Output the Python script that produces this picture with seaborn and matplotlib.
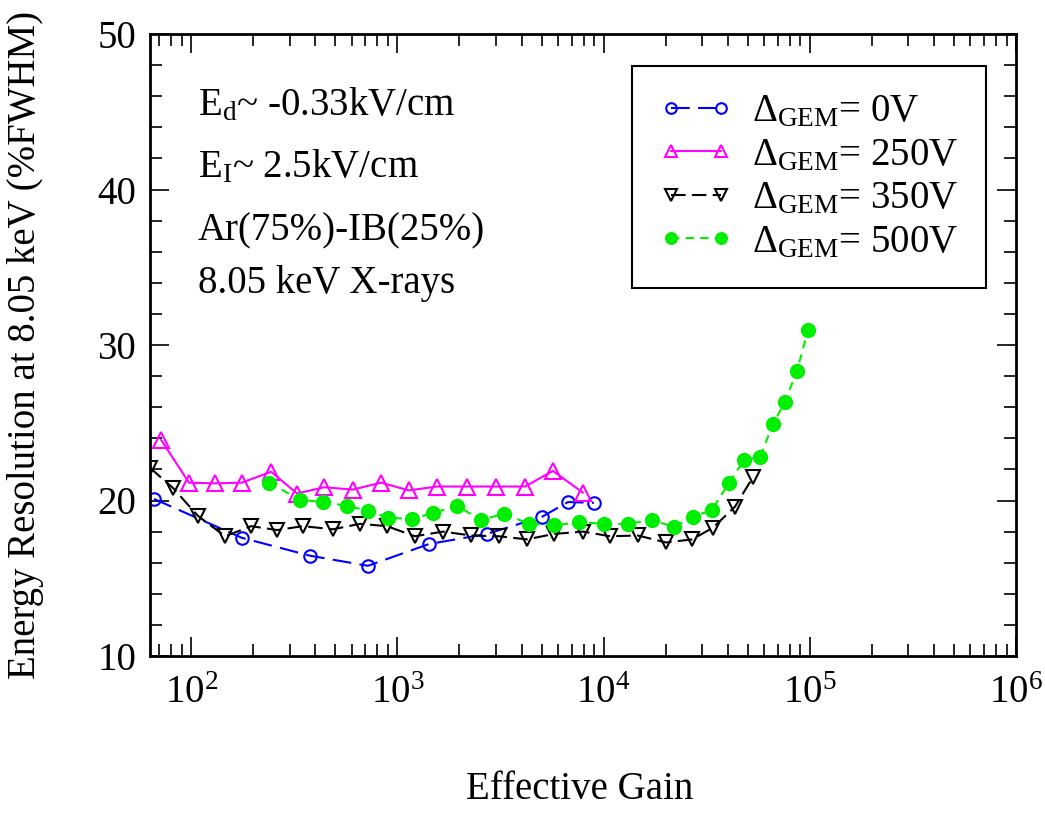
import numpy as np
import pandas as pd
import matplotlib
matplotlib.use("Agg")
import matplotlib.pyplot as plt
import seaborn as sns
from matplotlib.ticker import MultipleLocator, LogLocator, NullFormatter

# ---------------- data ----------------
gain_0v = [66.0, 176, 377, 719, 1422, 2716, 5020, 6715, 8980]
res_0v = [20.1, 17.6, 16.45, 15.8, 17.2, 17.85, 18.95, 19.9, 19.85]

gain_250v = [71.4, 97.5, 130, 176, 244, 326, 441, 609, 832, 1137, 1555, 2175,
             3008, 4156, 5681, 7943]
res_250v = [23.9, 21.15, 21.1, 21.15, 21.85, 20.45, 20.85, 20.7, 21.15, 20.65,
            20.9, 20.9, 20.9, 20.9, 21.9, 20.5]

gain_350v = [63.1, 81.6, 108, 146, 195, 261, 348, 487, 658, 889, 1216, 1663,
             2274, 3110, 4250, 5745, 7943, 10740, 14680, 20060, 26900, 33900,
             43350, 52970]
res_350v = [22.1, 20.8, 19.0, 17.7, 18.35, 18.1, 18.35, 18.15, 18.5, 18.35,
            17.7, 18.0, 17.75, 17.7, 17.5, 17.85, 18.0, 17.7, 17.75, 17.3,
            17.5, 18.25, 19.6, 21.5]

gain_500v = [238, 337, 435, 570, 719, 900, 1177, 1487, 1945, 2543, 3288, 4345,
             5745, 7598, 10060, 13150, 17180, 21980, 27160, 33580, 40570,
             47970, 57320, 66240, 75790, 86700, 97960]
res_500v = [21.15, 20.05, 19.9, 19.65, 19.35, 18.9, 18.8, 19.2, 19.65, 18.75,
            19.15, 18.5, 18.4, 18.6, 18.5, 18.5, 18.75, 18.3, 18.95, 19.4,
            21.15, 22.6, 22.8, 24.9, 26.35, 28.35, 30.95]

labels = [r"$\Delta_{\mathrm{GEM}}$= 0V", r"$\Delta_{\mathrm{GEM}}$= 250V",
          r"$\Delta_{\mathrm{GEM}}$= 350V", r"$\Delta_{\mathrm{GEM}}$= 500V"]

annot_lines = [r"E$_{\mathrm{d}}$~ -0.33kV/cm", r"E$_{\mathrm{I}}$~ 2.5kV/cm",
               "Ar(75%)-IB(25%)", "8.05 keV X-rays"]

# ---------------- style ----------------
sns.set_theme(style="ticks")
plt.rcParams["font.family"] = ["Liberation Serif", "DejaVu Serif"]
plt.rcParams["mathtext.fontset"] = "custom"
plt.rcParams["mathtext.rm"] = "Liberation Serif"
plt.rcParams["mathtext.it"] = "Liberation Serif:italic"
plt.rcParams["mathtext.bf"] = "Liberation Serif:bold"
for k in ["text.color", "axes.labelcolor", "xtick.color", "ytick.color",
          "axes.edgecolor"]:
    plt.rcParams[k] = "black"

FS = 28

fig = plt.figure(figsize=(10.45, 8.14), dpi=100)
ax = fig.add_axes([150 / 1045, 1 - 656 / 814, 866 / 1045, 622 / 814])

series = [
    (gain_0v, res_0v, dict(color="#0000ff", marker="o", markersize=9,
                           markerfacecolor="none", markeredgecolor="#0000ff",
                           markeredgewidth=1.5,
                           linestyle=(0, (9, 4)), linewidth=1.5)),
    (gain_250v, res_250v, dict(color="#ff00ff", marker="^", markersize=11,
                               markerfacecolor="none", markeredgecolor="#ff00ff",
                               markeredgewidth=1.5,
                               linestyle="-", linewidth=1.5)),
    (gain_350v, res_350v, dict(color="black", marker="v", markersize=10,
                               markerfacecolor="none", markeredgecolor="black",
                               markeredgewidth=1.5,
                               linestyle=(0, (7, 3)), linewidth=1.5)),
    (gain_500v, res_500v, dict(color="#00ee00", marker="o", markersize=11,
                               markerfacecolor="#00ee00", markeredgecolor="#00ee00",
                               markeredgewidth=0,
                               linestyle=(0, (4, 3)), linewidth=1.5)),
]

for (gx, ry, kw), lab in zip(series, labels):
    df = pd.DataFrame({"gain": gx, "res": ry})
    sns.lineplot(data=df, x="gain", y="res", ax=ax, sort=False,
                 estimator=None, label=lab, **kw)

ax.set_xscale("log")
ax.set_xlim(10 ** 1.8, 1e6)
ax.set_ylim(10, 50)
ax.yaxis.set_major_locator(MultipleLocator(10))
ax.yaxis.set_minor_locator(MultipleLocator(2))
ax.xaxis.set_major_locator(LogLocator(base=10, numticks=10))
ax.xaxis.set_minor_locator(LogLocator(base=10, subs=np.arange(2, 10), numticks=20))
ax.xaxis.set_minor_formatter(NullFormatter())

ax.tick_params(which="both", direction="in", top=True, right=True,
               labelsize=FS, width=1.2, colors="black")
ax.tick_params(which="major", length=14)
ax.tick_params(which="minor", length=8.5)
ax.tick_params(axis="x", which="major", pad=14)
ax.tick_params(axis="y", which="major", pad=10)
for s in ax.spines.values():
    s.set_linewidth(2.0)
    s.set_color("black")

ax.set_xlabel("Effective Gain", fontsize=FS)
ax.set_ylabel("Energy Resolution at 8.05 keV (%FWHM)", fontsize=FS)
ax.xaxis.set_label_coords(0.4965, -0.185)
ax.yaxis.set_label_coords(-0.122, 0.5)

ys = [0.8698, 0.7701, 0.6688, 0.5836]
for t, yy in zip(annot_lines, ys):
    ax.text(0.0554, yy, t, transform=ax.transAxes, fontsize=FS,
            ha="left", va="baseline")

leg = ax.legend(loc="upper right", bbox_to_anchor=(0.9654, 0.9486),
                borderaxespad=0, fontsize=FS, numpoints=2, handlelength=1.9,
                handletextpad=0.5, labelspacing=0.17, borderpad=0.7,
                fancybox=False, framealpha=1, edgecolor="black")
leg.get_frame().set_linewidth(1.5)
for h in leg.legend_handles:
    h.set_markersize(h.get_markersize() * 0.85)

fig.savefig("out.png", dpi=100)
